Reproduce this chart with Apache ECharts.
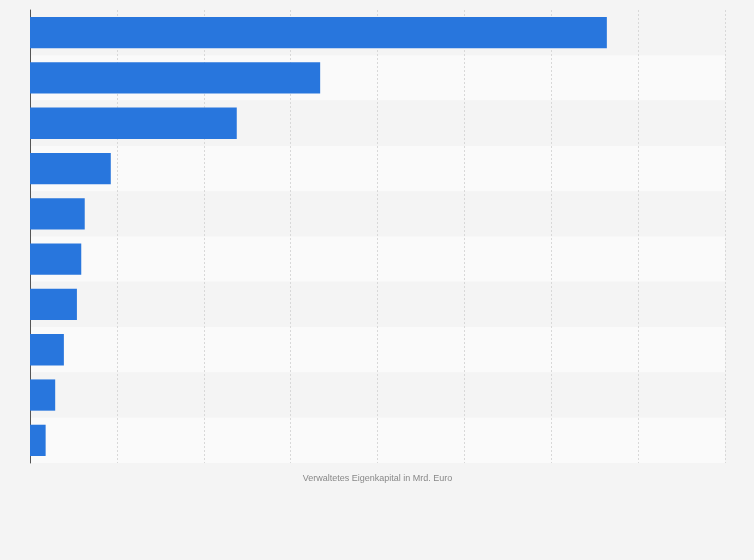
<!DOCTYPE html>
<html lang="de">
<head>
<meta charset="UTF-8">
<title>Verwaltetes Eigenkapital</title>
<style>
    html, body { margin: 0; background: #f4f4f4; }
    #echart { width: 754px; height: 560px; }
</style>
</head>
<body>
<div id="echart"></div>
<script src="https://cdn.jsdelivr.net/npm/echarts@6/dist/echarts.min.js"></script>
<script>
    // category names are not shown in the reference
    const categories = ["1", "2", "3", "4", "5", "6", "7", "8", "9", "10"];
    const values = [66.4, 33.4, 23.8, 9.3, 6.3, 5.9, 5.4, 3.9, 2.9, 1.8];

    const myChart = echarts.init(document.getElementById("echart"));

    const option = {
        animation: false,
        backgroundColor: "#f4f4f4",
        grid: { left: 30, right: 29, top: 10, bottom: 97 },
        xAxis: {
            type: "value",
            min: 0,
            max: 80,
            interval: 10,
            name: "Verwaltetes Eigenkapital in Mrd. Euro",
            nameLocation: "middle",
            nameGap: 11,
            nameTextStyle: { color: "#888", fontSize: 9, fontFamily: "Arial" },
            axisLabel: { show: false },
            axisLine: { show: false },
            axisTick: { show: false },
            splitLine: { lineStyle: { color: "#d8d8d8", type: [2, 2] } }
        },
        yAxis: {
            type: "category",
            data: categories,
            inverse: true,
            axisLabel: { show: false },
            axisTick: { show: false },
            axisLine: { lineStyle: { color: "#555", width: 1 } },
            splitArea: { show: true, areaStyle: { color: ["#f4f4f4", "#fafafa"] } }
        },
        series: [
            {
                type: "bar",
                data: values,
                barCategoryGap: "31%",
                itemStyle: { color: "#2876dd" }
            }
        ]
    };

    myChart.setOption(option);
</script>
</body>
</html>
